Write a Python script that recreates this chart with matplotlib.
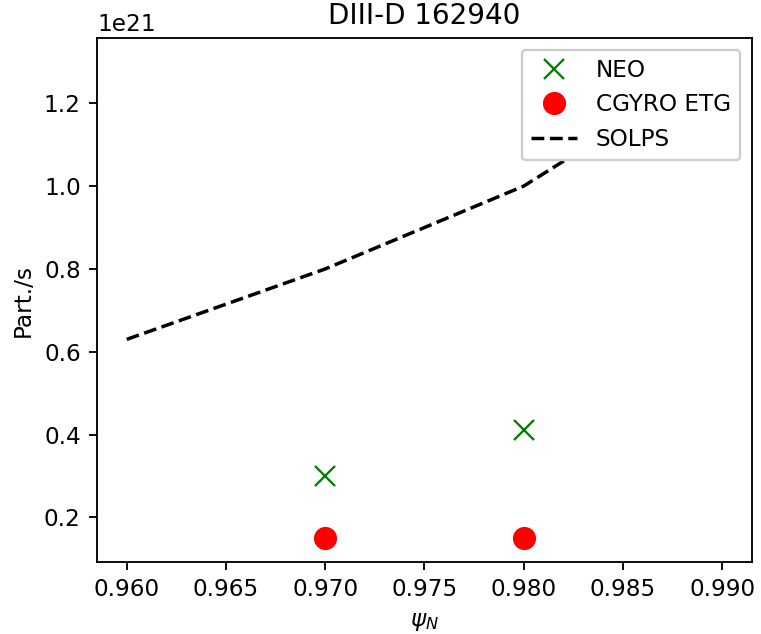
import matplotlib
matplotlib.use('Agg')
import matplotlib.pyplot as plt

# data
psi_neo = [0.97, 0.98]
flux_neo = [0.30e21, 0.41e21]

psi_cgyro = [0.97, 0.98]
flux_cgyro = [0.15e21, 0.15e21]

psi_solps = [0.96, 0.97, 0.98, 0.99]
flux_solps = [0.63e21, 0.80e21, 1.00e21, 1.30e21]

DPI = 166.67
fig = plt.figure(figsize=(761 / DPI, 634 / DPI), dpi=DPI)
ax = fig.add_axes([0.1275, 0.1136, 0.8605, 0.8264])

ax.plot(psi_neo, flux_neo, 'x', color='green', markersize=9, label='NEO')
ax.plot(psi_cgyro, flux_cgyro, 'o', color='red', markersize=9, label='CGYRO ETG')
ax.plot(psi_solps, flux_solps, '--', color='black', label='SOLPS')

ax.set_xlabel(r'$\psi_N$')
ax.set_ylabel('Part./s')
ax.set_title('DIII-D 162940')
ax.legend(loc='upper right', framealpha=1)

fig.savefig('out.png', dpi=DPI)
